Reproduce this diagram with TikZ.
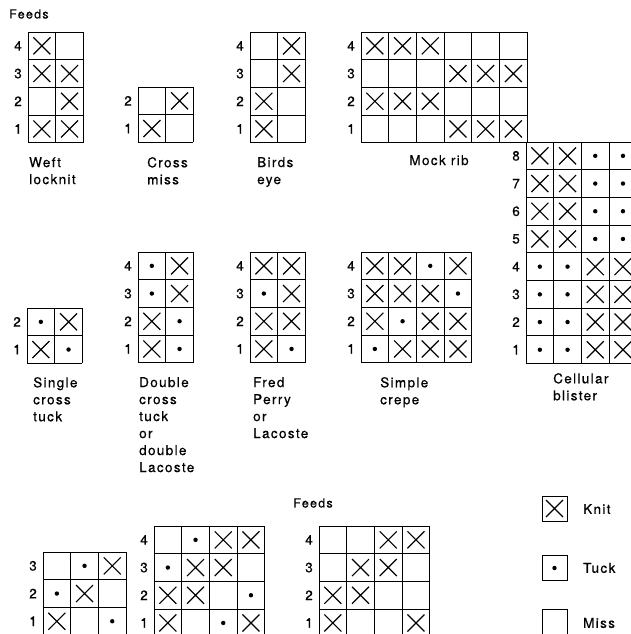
\documentclass[tikz,border=0pt]{standalone}
\usepackage{fontspec}
\setmainfont{TeX Gyre Heros}[LetterSpace=10.0,FakeBold=0.6]
\newcommand\cw{27.7}
\tikzset{
  gridline/.style={line width=0.9pt},
  xmark/.style={line width=1.2pt},
  feedlab/.style={anchor=east,inner sep=0pt,font=\fontsize{13.5}{15}\selectfont},
  caption/.style={anchor=north west,align=left,inner sep=0pt,font=\fontsize{13.5}{17}\selectfont},
  plain/.style={inner sep=0pt,font=\fontsize{13.5}{17}\selectfont},
  legbox/.style={draw,line width=0.9pt,minimum width=25pt,minimum height=25pt,inner sep=0pt}
}
\newcommand\mkX[2]{\draw[xmark,shift={(#1,#2)}] (-8.5,-8.5) -- (8.5,8.5) (-8.5,8.5) -- (8.5,-8.5);}
\newcommand\mkT[2]{\fill[shift={(#1,#2)}] (0,0) circle (2.2);}
\newcommand\mkO[2]{}
% name, x0, y0 (top), cols, rows, rows top to bottom
\newcommand\knitgrid[6]{%
  \pgfmathsetmacro\gw{#4*\cw}\pgfmathsetmacro\gh{#5*\cw}%
  \coordinate (#1) at (#2,#3);
  \foreach \k in {0,...,#4} {\draw[gridline] ({#2+\k*\cw},#3) -- ++(0,\gh);}
  \foreach \k in {0,...,#5} {\draw[gridline] (#2,{#3+\k*\cw}) -- ++(\gw,0);}
  \foreach \row [count=\j] in {#6} {
    \pgfmathtruncatemacro\lab{#5-\j+1}
    \pgfmathsetmacro\cy{#3+(\j-0.5)*\cw}
    \node[feedlab] (#1-f\lab) at (#2-6,\cy) {\lab};
    \foreach \c [count=\i] in \row {
      \pgfmathsetmacro\cx{#2+(\i-0.5)*\cw}
      \csname mk\c\endcsname{\cx}{\cy}
    }
  }
}
\begin{document}
\begin{tikzpicture}[x=1pt,y=-1pt]
\useasboundingbox (0,0) rectangle (631,634);
\fill[white] (0,0) rectangle (631,634);
\clip (0,0) rectangle (631,634);

\node[plain,anchor=west,font=\fontsize{12.5}{14}\selectfont] (feedsA) at (9,14) {Feeds};

\knitgrid{weft}{28}{32}{2}{4}{{X,O},{X,X},{O,X},{X,X}}
\knitgrid{cross}{138}{87}{2}{2}{{O,X},{X,O}}
\knitgrid{birds}{250}{32}{2}{4}{{O,X},{O,X},{X,O},{X,O}}
\knitgrid{mock}{361}{32}{6}{4}{{X,X,X,O,O,O},{O,O,O,X,X,X},{X,X,X,O,O,O},{O,O,O,X,X,X}}
\knitgrid{cell}{526}{142}{4}{8}{{X,X,T,T},{X,X,T,T},{X,X,T,T},{X,X,T,T},{T,T,X,X},{T,T,X,X},{T,T,X,X},{T,T,X,X}}
\knitgrid{sct}{27}{308}{2}{2}{{T,X},{X,T}}
\knitgrid{dct}{138}{252}{2}{4}{{T,X},{T,X},{X,T},{X,T}}
\knitgrid{fred}{250}{252}{2}{4}{{X,X},{T,X},{X,X},{X,T}}
\knitgrid{crepe}{361}{252}{4}{4}{{X,X,T,X},{X,X,X,T},{X,T,X,X},{T,X,X,X}}
\knitgrid{bA}{43}{552}{3}{3}{{O,T,X},{T,X,O},{X,O,T}}
\knitgrid{bB}{154}{526}{4}{4}{{O,T,X,X},{T,X,X,O},{X,X,O,T},{X,O,T,X}}
\knitgrid{bC}{319}{526}{4}{4}{{O,O,X,X},{O,X,X,O},{X,X,O,O},{X,O,O,X}}

\node[caption] (capweft) at (29,157) {Weft\\locknit};
\node[caption] (capcross) at (147,157) {Cross\\miss};
\node[caption] (capbirds) at (257,157) {Birds\\eye};
\node[caption,anchor=north] (capmock) at (439,155) {Mock rib};
\node[caption] (capcell) at (553,373) {Cellular\\blister};
\node[caption] (capsct) at (33,377) {Single\\cross\\tuck};
\node[caption] (capdct) at (139,377) {Double\\cross\\tuck\\or\\double\\Lacoste};
\node[caption] (capfred) at (253,377) {Fred\\Perry\\or\\Lacoste};
\node[caption] (capcrepe) at (380,377) {Simple\\crepe};

\node[plain,font=\fontsize{12.5}{14}\selectfont] (feedsB) at (313,503) {Feeds};

\node[legbox] (knitbox) at (554.5,508.5) {};
\mkX{554.5}{508.5}
\node[legbox] (tuckbox) at (554.5,568) {};
\mkT{554.5}{568}
\node[legbox] (missbox) at (554.5,622) {};
\node[plain,anchor=west] (knitlab) at (583,509) {Knit};
\node[plain,anchor=west] (tucklab) at (583,568) {Tuck};
\node[plain,anchor=west] (misslab) at (583,623) {Miss};
\end{tikzpicture}
\end{document}
